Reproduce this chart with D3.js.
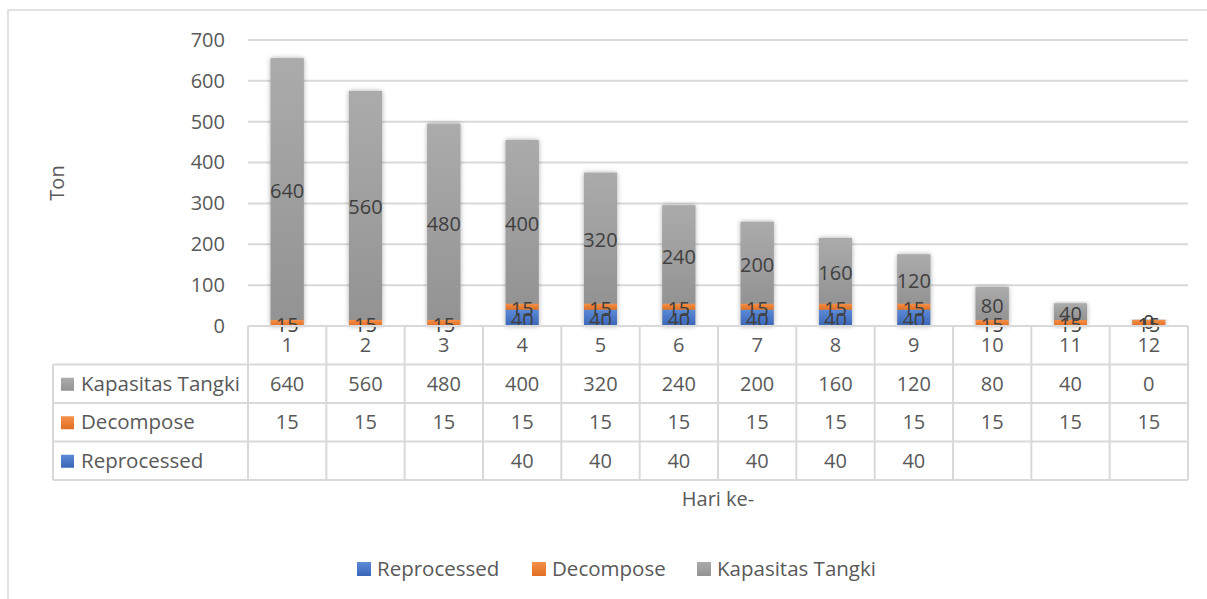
<!DOCTYPE html>
<html>
<head>
<meta charset="utf-8">
<script src="https://cdn.jsdelivr.net/npm/d3@7"></script>
<style>
  body { margin: 0; background: #fff; }
  text { font-family: "Open Sans", "Noto Sans", sans-serif; fill: #595959; }
</style>
</head>
<body>
<div id="wrapper"></div>
<script>
const days = ["1","2","3","4","5","6","7","8","9","10","11","12"]
const reprocessed = [null,null,null,40,40,40,40,40,40,null,null,null]
const decompose = [15,15,15,15,15,15,15,15,15,15,15,15]
const kapasitas = [640,560,480,400,320,240,200,160,120,80,40,0]
const yTicks = [0,100,200,300,400,500,600,700]

const seriesNames = ["Reprocessed","Decompose","Kapasitas Tangki"]
const seriesValues = [reprocessed, decompose, kapasitas]
const colors = {
  "Reprocessed": ["#5b8ad6", "#3a66b8"],
  "Decompose": ["#f5904a", "#e06f22"],
  "Kapasitas Tangki": ["#ababab", "#939393"],
}

function drawChart() {
  const width = 1207, height = 599
  const plot = { left: 248, right: 1188, top: 40, bottom: 326 }
  const rowH = 38.5
  const tableLeft = 53

  const svg = d3.select("#wrapper").append("svg")
    .attr("width", width).attr("height", height)

  // chart border
  svg.append("rect")
    .attr("x", 8).attr("y", 10).attr("width", 1220).attr("height", 620)
    .attr("fill", "none").attr("stroke", "#d9d9d9").attr("stroke-width", 1.5)

  const defs = svg.append("defs")
  seriesNames.forEach((s, i) => {
    const g = defs.append("linearGradient").attr("id", "grad" + i)
      .attr("x1", 0).attr("y1", 0).attr("x2", 0).attr("y2", 1)
    g.append("stop").attr("offset", "0%").attr("stop-color", colors[s][0])
    g.append("stop").attr("offset", "100%").attr("stop-color", colors[s][1])
  })
  defs.append("filter").attr("id", "shadow")
    .attr("x", "-30%").attr("y", "-10%").attr("width", "160%").attr("height", "120%")
    .append("feDropShadow")
    .attr("dx", 0).attr("dy", 0).attr("stdDeviation", 2.5)
    .attr("flood-color", "#000").attr("flood-opacity", 0.35)

  const x = d3.scaleBand().domain(days).range([plot.left, plot.right]).paddingInner(0.58).paddingOuter(0.29)
  const xCol = d3.scaleBand().domain(days).range([plot.left, plot.right])
  const y = d3.scaleLinear().domain([0, 700]).range([plot.bottom, plot.top])

  // gridlines
  svg.append("g").selectAll("line").data(yTicks.filter(d => d > 0)).join("line")
    .attr("x1", plot.left).attr("x2", plot.right)
    .attr("y1", d => y(d)).attr("y2", d => y(d))
    .attr("stroke", "#d9d9d9").attr("stroke-width", 2)

  // y axis labels
  const yAxis = svg.append("g")
    .attr("transform", `translate(${plot.left},0)`)
    .call(d3.axisLeft(y).tickValues(yTicks).tickSize(0).tickPadding(23))
  yAxis.select(".domain").remove()
  yAxis.selectAll("text").style("font-size", "20px").attr("fill", "#595959")
    .style("font-family", '"Open Sans", sans-serif')

  // stacked data
  const rows = days.map((d, i) => {
    const r = { day: d }
    seriesNames.forEach((s, j) => r[s] = seriesValues[j][i] || 0)
    return r
  })
  const stack = d3.stack().keys(seriesNames)(rows)

  const barG = svg.append("g")
  // shadow layer per full bar
  barG.append("g").selectAll("rect").data(rows).join("rect")
    .attr("x", d => x(d.day)).attr("width", x.bandwidth())
    .attr("y", d => y(d3.sum(seriesNames, s => d[s])))
    .attr("height", d => plot.bottom - y(d3.sum(seriesNames, s => d[s])))
    .attr("fill", "#999").attr("filter", "url(#shadow)")

  stack.forEach((layer, i) => {
    barG.append("g").selectAll("rect").data(layer).join("rect")
      .attr("x", d => x(d.data.day)).attr("width", x.bandwidth())
      .attr("y", d => y(d[1])).attr("height", d => y(d[0]) - y(d[1]))
      .attr("fill", `url(#grad${i})`)
  })

  // data labels
  stack.forEach((layer, i) => {
    const vals = seriesValues[i]
    svg.append("g").selectAll("text").data(layer.filter((d, k) => vals[k] !== null)).join("text")
      .attr("x", d => x(d.data.day) + x.bandwidth() / 2)
      .attr("y", d => y((d[0] + d[1]) / 2) + 2)
      .attr("dy", "0.35em")
      .attr("text-anchor", "middle")
      .style("font-size", "20px").style("fill", "#404040")
      .text(d => d.data[seriesNames[i]])
  })

  // data table
  const table = svg.append("g")
  const tTop = plot.bottom
  const tableRows = [kapasitas, decompose, reprocessed]
  const tableNames = ["Kapasitas Tangki", "Decompose", "Reprocessed"]
  const lineCol = "#d9d9d9"

  // horizontal lines
  table.append("line").attr("x1", plot.left).attr("x2", plot.right)
    .attr("y1", tTop).attr("y2", tTop).attr("stroke", lineCol).attr("stroke-width", 2)
  d3.range(1, 5).forEach(k => {
    table.append("line").attr("x1", tableLeft).attr("x2", plot.right)
      .attr("y1", tTop + k * rowH).attr("y2", tTop + k * rowH)
      .attr("stroke", lineCol).attr("stroke-width", 2)
  })
  // vertical lines
  table.append("line").attr("x1", tableLeft).attr("x2", tableLeft)
    .attr("y1", tTop + rowH).attr("y2", tTop + 4 * rowH).attr("stroke", lineCol).attr("stroke-width", 2)
  days.forEach(d => {
    table.append("line").attr("x1", xCol(d)).attr("x2", xCol(d))
      .attr("y1", tTop).attr("y2", tTop + 4 * rowH).attr("stroke", lineCol).attr("stroke-width", 2)
  })
  table.append("line").attr("x1", plot.right).attr("x2", plot.right)
    .attr("y1", tTop).attr("y2", tTop + 4 * rowH).attr("stroke", lineCol).attr("stroke-width", 2)

  // category labels
  table.append("g").selectAll("text").data(days).join("text")
    .attr("x", d => xCol(d) + xCol.bandwidth() / 2).attr("y", tTop + rowH / 2)
    .attr("dy", "0.35em").attr("text-anchor", "middle").style("font-size", "20px")
    .text(d => d)

  tableRows.forEach((vals, r) => {
    const cy = tTop + (r + 1.5) * rowH
    const name = tableNames[r]
    const idx = seriesNames.indexOf(name)
    table.append("rect").attr("x", 61).attr("y", cy - 6).attr("width", 13).attr("height", 13)
      .attr("fill", `url(#grad${idx})`)
    table.append("text").attr("x", 81).attr("y", cy).attr("dy", "0.35em")
      .style("font-size", "20.5px").text(name)
    table.append("g").selectAll("text").data(vals.map((v, i) => ({ v, d: days[i] })).filter(o => o.v !== null))
      .join("text")
      .attr("x", o => xCol(o.d) + xCol.bandwidth() / 2).attr("y", cy)
      .attr("dy", "0.35em").attr("text-anchor", "middle").style("font-size", "20px")
      .text(o => o.v)
  })

  // axis titles
  svg.append("text").attr("x", (plot.left + plot.right) / 2).attr("y", 499)
    .attr("dy", "0.35em").attr("text-anchor", "middle").style("font-size", "20px").text("Hari ke-")
  svg.append("text").attr("transform", `translate(57,${(plot.top + plot.bottom) / 2}) rotate(-90)`)
    .attr("dy", "0.35em").attr("text-anchor", "middle").style("font-size", "20px").text("Ton")

  // legend
  const legendX = [357, 532, 697]
  const legend = svg.append("g")
  seriesNames.forEach((s, i) => {
    legend.append("rect").attr("x", legendX[i]).attr("y", 562).attr("width", 14).attr("height", 14)
      .attr("fill", `url(#grad${i})`)
    legend.append("text").attr("x", legendX[i] + 20).attr("y", 569).attr("dy", "0.35em")
      .style("font-size", "20.5px").text(s)
  })
}
drawChart()
</script>
</body>
</html>
